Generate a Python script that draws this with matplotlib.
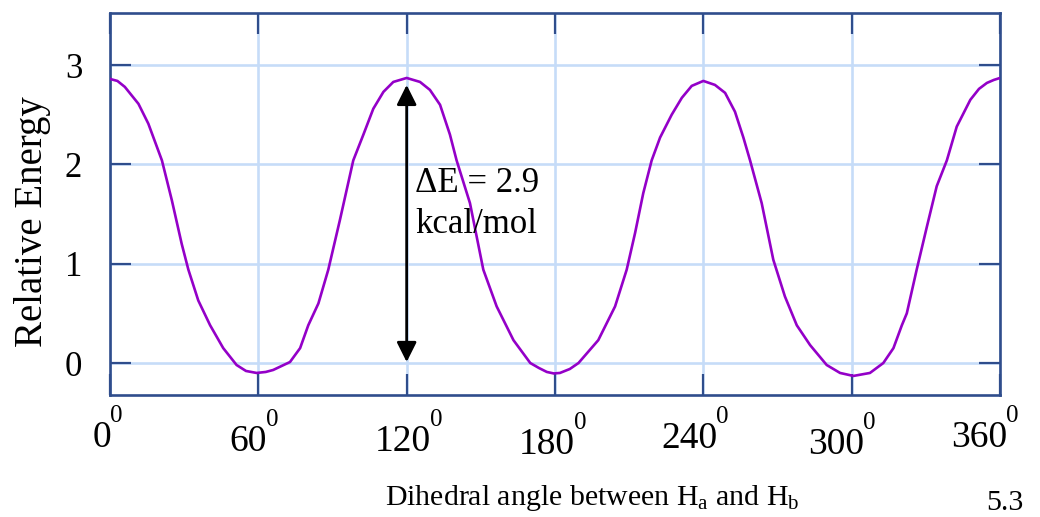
"""
Torsional energy of ethane: relative energy vs. H-C-C-H dihedral angle.
"""

import matplotlib
matplotlib.use("Agg")
import matplotlib.pyplot as plt

plt.rcParams["font.family"] = ["Liberation Serif", "DejaVu Serif"]
plt.rcParams["mathtext.fontset"] = "custom"
plt.rcParams["mathtext.rm"] = "Liberation Serif"
plt.rcParams["mathtext.it"] = "Liberation Serif:italic"

# values (degrees, kcal/mol)
angle = [0, 3, 6, 11.5, 15.5, 21, 25, 29, 31.7, 35.7, 40.5, 45.8, 51.2, 55,
         59.3, 63, 66, 72.8, 76.9, 80.2, 84.3, 88.3, 93, 98.4, 102.5, 106.5,
         110.6, 114.6, 120, 125.4, 129.4, 133.5, 137.5, 140.2, 145.6, 151,
         156.4, 163.2, 170, 173.5, 176.7, 179.5, 182, 186, 189.5, 197.5,
         204.3, 209, 212.4, 215.7, 219.1, 222.5, 227.2, 231.3, 235.3, 240,
         244.7, 248.8, 252.8, 256.2, 258.9, 263.6, 268.3, 273, 277.8, 283.2,
         289.9, 295.3, 300.7, 307.4, 312.8, 316.9, 320.3, 322.3, 326.3,
         330.4, 334.4, 338.5, 342.5, 348, 351.5, 354.7, 357.5, 360]
energy = [2.86, 2.84, 2.78, 2.61, 2.41, 2.04, 1.64, 1.20, 0.94, 0.63, 0.38,
          0.15, -0.02, -0.08, -0.10, -0.09, -0.07, 0.01, 0.15, 0.38, 0.60,
          0.94, 1.44, 2.04, 2.30, 2.56, 2.73, 2.83, 2.87, 2.83, 2.75, 2.60,
          2.30, 2.04, 1.61, 0.94, 0.57, 0.23, 0.00, -0.05, -0.09, -0.105,
          -0.10, -0.06, 0.00, 0.23, 0.57, 0.94, 1.31, 1.71, 2.04, 2.27, 2.50,
          2.67, 2.79, 2.84, 2.80, 2.72, 2.53, 2.27, 2.04, 1.61, 1.04, 0.67,
          0.38, 0.18, -0.02, -0.10, -0.13, -0.10, 0.00, 0.15, 0.38, 0.50,
          0.94, 1.37, 1.78, 2.04, 2.38, 2.65, 2.76, 2.82, 2.85, 2.87]

x_ticks = [0, 60, 120, 180, 240, 300, 360]
x_tick_labels = ["0", "60", "120", "180", "240", "300", "360"]
degree_mark = "0"
y_ticks = [0, 1, 2, 3]

barrier_angle = 120
barrier_low = 0.01
barrier_high = 2.80
barrier_label = "ΔE = 2.9\nkcal/mol"

# hand-set nudges of the x labels (pixels), as in the original drawing
label_dx = [-2, -4, 2, -2, -8, -10, -15]
label_dy = [-52, -56, -56, -59, -53, -59, -52]

spine_col = "#2f4d8c"
grid_col = "#c6dcf8"
curve_col = "#9400c8"

fig = plt.figure(figsize=(10.4, 5.17), dpi=100)
fig.patch.set_facecolor("white")
ax = fig.add_axes([110 / 1040, 1 - 395 / 517, 890 / 1040, 382 / 517])

ax.set_xlim(0, 360)
ax.set_ylim(-0.322, 3.524)
ax.set_xticks(x_ticks)
ax.set_yticks(y_ticks)

ax.grid(True, color=grid_col, linewidth=1.9, zorder=0)
ax.set_axisbelow(True)

ax.plot(angle, energy, color=curve_col, linewidth=1.9,
        solid_joinstyle="round", solid_capstyle="round", zorder=3)

ax.annotate("", xy=(barrier_angle, barrier_high),
            xytext=(barrier_angle, barrier_low),
            arrowprops=dict(arrowstyle="<|-|>", color="black", lw=2.0,
                            mutation_scale=30, shrinkA=0, shrinkB=0),
            zorder=4)
# baseline of a multi-line text is that of its last line
ax.text(123.4, 1.31, barrier_label, fontsize=25, va="baseline", ha="left",
        linespacing=1.3, zorder=5)

for side in ax.spines.values():
    side.set_color(spine_col)
    side.set_linewidth(1.9)

ax.tick_params(axis="both", direction="in", length=15, width=1.6,
               color=spine_col, top=True, right=True, labelsize=25)
ax.tick_params(axis="x", labelbottom=False)
ax.tick_params(axis="y", pad=20)

# x labels: number plus raised degree "0"
for t, lab, dx, dy in zip(x_ticks, x_tick_labels, label_dx, label_dy):
    num = ax.annotate(lab, xy=(t, 0), xycoords=("data", "axes fraction"),
                      xytext=(dx - 6, dy), textcoords="offset pixels",
                      ha="center", va="baseline", fontsize=27,
                      annotation_clip=False)
    ax.annotate(degree_mark, xy=(1, 0), xycoords=(num, "axes fraction"),
                xytext=(-1, dy + 25), textcoords="offset pixels",
                ha="left", va="baseline", fontsize=18,
                annotation_clip=False)

fig.text(33 / 1040, 1 - 222 / 517, "Relative Energy", rotation=90,
         fontsize=28, ha="center", va="center")
fig.text(592 / 1040, 1 - 505 / 517,
         r"Dihedral angle between H$_{\mathrm{a}}$ and H$_{\mathrm{b}}$",
         fontsize=21.5, ha="center", va="baseline")
fig.text(1005 / 1040, 1 - 510 / 517, "5.3", fontsize=21.5,
         ha="center", va="baseline")

fig.savefig("out.png", dpi=100, facecolor=fig.get_facecolor())
